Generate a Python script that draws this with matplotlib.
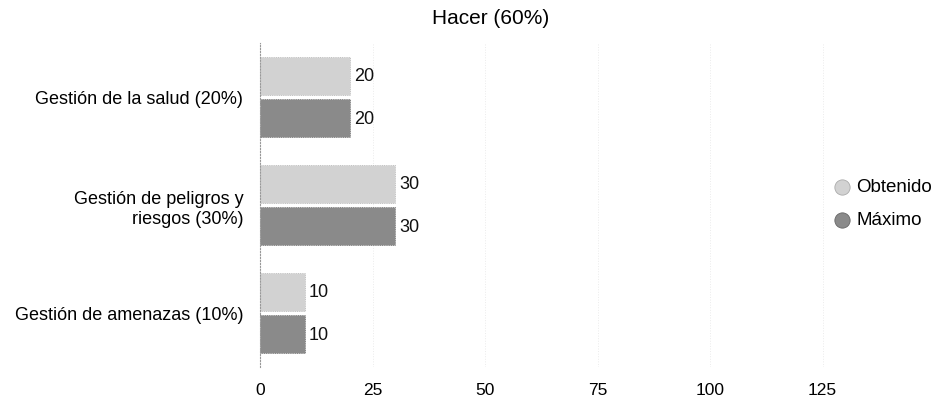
import matplotlib
matplotlib.use("Agg")
import matplotlib.pyplot as plt
import numpy as np

plt.rcParams['font.family'] = ['Liberation Sans', 'DejaVu Sans']

# Data
categories = ["Gestión de la salud (20%)",
              "Gestión de peligros y\nriesgos (30%)",
              "Gestión de amenazas (10%)"]
obtenido = [20, 30, 10]
maximo = [20, 30, 10]
series_names = ["Obtenido", "Máximo"]
x_ticks = [0, 25, 50, 75, 100, 125]
title = "Hacer (60%)"

W, H = 946, 406
fig = plt.figure(figsize=(W / 100, H / 100), dpi=100)
# axes in pixel coordinates: left 260, right 890, top 44, bottom 368
ax = fig.add_axes([260 / W, 1 - 368 / H, (890 - 260) / W, (368 - 44) / H])

y = np.arange(len(categories))
bar_h = 0.35
off = 0.195
col_obt = "#d2d2d2"
col_max = "#8a8a8a"

b1 = ax.barh(y - off, obtenido, height=bar_h, color=col_obt, edgecolor="#b5b5b5",
             linewidth=0.6, linestyle=":")
b2 = ax.barh(y + off, maximo, height=bar_h, color=col_max, edgecolor="#707070",
             linewidth=0.6, linestyle=":")

for bars, vals in ((b1, obtenido), (b2, maximo)):
    for rect, v in zip(bars, vals):
        ax.text(rect.get_width() + 0.9, rect.get_y() + rect.get_height() / 2, str(v),
                va="center", ha="left", fontsize=13, color="#111111")

ax.set_ylim(len(categories) - 0.5, -0.5)
ax.set_xlim(0, 140)
ax.set_yticks(y)
ax.set_yticklabels(categories, fontsize=13)
ax.set_xticks(x_ticks)
ax.set_xticklabels([str(t) for t in x_ticks], fontsize=12.5)
ax.tick_params(axis="both", length=0, pad=11)
ax.tick_params(axis="y", pad=12)

for s in ("top", "right", "bottom"):
    ax.spines[s].set_visible(False)
ax.spines["left"].set_linestyle(":")
ax.spines["left"].set_color("#999999")
ax.spines["left"].set_linewidth(0.8)

ax.xaxis.grid(True, linestyle=":", color="#ebebeb", linewidth=0.7)
ax.set_axisbelow(True)

fig.text(491 / W, 1 - 18 / H, title, ha="center", va="center", fontsize=15)

# legend with round markers
for i, (name, c, ec) in enumerate(zip(series_names, (col_obt, col_max), ("#aaaaaa", "#666666"))):
    yy = 1 - (188 + i * 33) / H
    fig.lines.append(plt.Line2D([842 / W], [yy], marker="o", markersize=11,
                                markerfacecolor=c, markeredgecolor=ec,
                                markeredgewidth=0.6, transform=fig.transFigure))
    fig.text(856 / W, yy, name, ha="left", va="center", fontsize=13.5)

fig.savefig("out.png", dpi=100)
